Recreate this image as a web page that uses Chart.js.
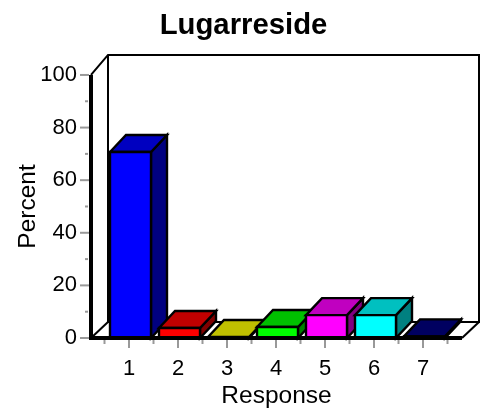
<!DOCTYPE html>
<html><head><meta charset="utf-8">
<style>html,body{margin:0;padding:0;background:#fff}#w{width:487px;height:410px}</style>
<script src="https://cdn.jsdelivr.net/npm/chart.js@4"></script></head>
<body><div id="w"><canvas id="c" width="487" height="410"></canvas></div>
<script>
const categories=[1,2,3,4,5,6,7];
const percentValues=[70.7,3.8,0,4.2,8.7,8.7,0.6];
const frontColors=['#0000ff','#ff0000','#ffff00','#00ff00','#ff00ff','#00ffff','#000080'];
const topColors=['#0000c0','#c00000','#c0c000','#00c000','#c000c0','#00c0c0','#000060'];
const sideColors=['#000080','#800000','#808000','#008000','#800080','#008080','#000040'];
const yMajorTicks=[0,20,40,60,80,100];
const yMinorTicks=[10,30,50,70,90];
const xMinorTicks=[0.5,1.5,2.5,3.5,4.5,5.5,6.5,7.5];
const DEPTH=17, BAR_SHIFT=1.5;

function line(ctx,pts,w,col){ctx.save();ctx.strokeStyle=col||'#000';ctx.lineWidth=w;ctx.lineJoin='miter';ctx.beginPath();
 pts.forEach((p,i)=>i?ctx.lineTo(p[0],p[1]):ctx.moveTo(p[0],p[1]));ctx.stroke();ctx.restore();}
function poly(ctx,pts,fill){ctx.save();ctx.fillStyle=fill;ctx.strokeStyle='#000';ctx.lineWidth=2.4;ctx.lineJoin='miter';ctx.beginPath();
 pts.forEach((p,i)=>i?ctx.lineTo(p[0],p[1]):ctx.moveTo(p[0],p[1]));ctx.closePath();ctx.fill();ctx.stroke();ctx.restore();}

const box3d={id:'box3d',
 beforeDatasetDraw(chart,args){
  const ctx=chart.ctx,a=chart.chartArea,d=DEPTH;
  const L=a.left,R=a.right,T=a.top,B=a.bottom;
  line(ctx,[[L,T],[L+d,T-20],[R+d,T-20],[R+d,B-16],[L+d,B-16],[L+d,T-20]],2);
  line(ctx,[[L,B],[L+d,B-16]],2);
  line(ctx,[[R,B],[R+d,B-16]],2);
  const x=chart.scales.x,y=chart.scales.y;
  const tick=(x0,y0,x1,y1)=>line(ctx,[[x0,y0],[x1,y1]],2,'#999');
  yMajorTicks.forEach(v=>{const p=y.getPixelForValue(v);tick(80,p,L-2,p);});
  yMinorTicks.forEach(v=>{const p=y.getPixelForValue(v);tick(85,p,88,p);});
  categories.forEach(v=>{const p=x.getPixelForValue(v);tick(p,B+2,p,B+10);});
  xMinorTicks.forEach(v=>{const p=x.getPixelForValue(v);tick(p,B+2,p,B+6);});
  args.meta.data.forEach((el,i)=>{
   const p=el.getProps(['x','y','base','width'],true);
   const l=p.x-p.width/2+1+BAR_SHIFT,r=p.x+p.width/2-1+BAR_SHIFT,t=p.y,b=p.base;
   const h=Math.min(t,b-1);
   poly(ctx,[[r,h],[r+d-1,h-d],[r+d-1,b-d],[r,b]],sideColors[i]);
   poly(ctx,[[l,h],[l+d-1,h-d],[r+d-1,h-d],[r,h]],topColors[i]);
   if(percentValues[i]>0){poly(ctx,[[l,h],[r,h],[r,b],[l,b]],frontColors[i]);}
  });
  line(ctx,[[L,T],[L,B+2]],4);
  line(ctx,[[L-2,B],[R,B]],4);
  return false;
 }};

new Chart(document.getElementById('c'),{
 type:'bar',
 data:{datasets:[{data:categories.map((c,i)=>({x:c,y:percentValues[i]})),barThickness:43,backgroundColor:frontColors,borderColor:'#000',borderWidth:2}]},
 options:{responsive:false,animation:false,
  layout:{padding:0},
  plugins:{legend:{display:false},tooltip:{enabled:false},
   title:{display:true,text:'Lugarreside',color:'#000',font:{family:'"Liberation Sans"',size:29.3,weight:'bold'},padding:{top:8,bottom:31.8}}},
  scales:{
   x:{type:'linear',min:0.2245,max:7.796,offset:false,
    afterBuildTicks(s){s.ticks=categories.map(v=>({value:v}));},
    afterFit(s){s.height=72;},
    grid:{display:false},border:{display:false},
    ticks:{autoSkip:false,maxRotation:0,padding:10,color:'#000',font:{family:'"Liberation Sans"',size:22},callback:v=>String(v)},
    title:{display:true,text:'Response',color:'#000',font:{family:'"Liberation Sans"',size:24.5},padding:{top:0,bottom:-1}}},
   y:{min:0,max:100,
    afterBuildTicks(s){s.ticks=yMajorTicks.map(v=>({value:v}));},
    afterFit(s){s.width=91;},
    grid:{display:false},border:{display:false},
    ticks:{padding:6,color:'#000',font:{family:'"Liberation Sans"',size:22}},
    title:{display:true,text:'Percent',color:'#000',font:{family:'"Liberation Sans"',size:24.5},padding:{top:14,bottom:0}}},
   rightMargin:{position:'right',display:true,
    afterFit(s){s.width=25;},
    grid:{display:false},border:{display:false},ticks:{display:false}}
  }},
 plugins:[box3d]});
</script></body></html>
